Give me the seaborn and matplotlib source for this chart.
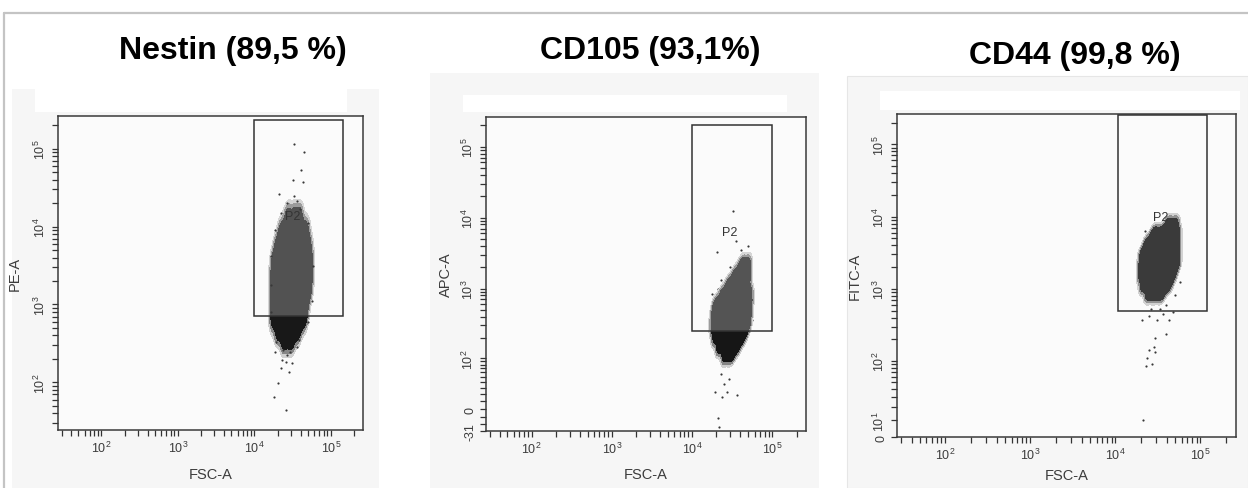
import numpy as np
import pandas as pd
import matplotlib
matplotlib.use("Agg")
import matplotlib.pyplot as plt
from matplotlib.patches import Rectangle
from matplotlib.colors import ListedColormap
import seaborn as sns

# ---------------- data ----------------
titles = ["Nestin (89,5 %)", "CD105 (93,1%)", "CD44 (99,8 %)"]
y_labels = ["PE-A", "APC-A", "FITC-A"]
x_label = "FSC-A"
gate_label = "P2"

# representative events of the dense cloud (FSC-A, marker)
nestin_fsc = [27500, 33100, 38000,
              22900, 27500, 33100, 39800, 45700,
              20400, 24500, 29500, 35500, 42700, 49000,
              18600, 22400, 26900, 32400, 38900, 46800, 51300,
              18200, 21900, 26300, 31600, 38000, 45700, 51300,
              18200, 21900, 26300, 31600, 38000, 45700, 50100,
              18200, 21900, 26300, 31600, 38000, 45700,
              18200, 21900, 26300, 31600, 38000, 43700,
              20900, 25100, 30200, 36300,
              25100, 30200]
nestin_pe = [12600] * 3 + [8320] * 5 + [5500] * 6 + [3630] * 7 + [2400] * 7 + \
            [1580] * 7 + [1050] * 6 + [690] * 6 + [480] * 4 + [363] * 2

cd105_fsc = [41700, 47900,
             34700, 40700, 47900,
             28800, 33900, 39800, 46800,
             24000, 28200, 33100, 38900, 45700, 50100,
             20000, 23400, 27500, 32400, 38000, 44700, 50100,
             19100, 22400, 26300, 30900, 36300, 42700, 49000,
             19100, 22400, 26300, 30900, 36300, 42700, 47900,
             20000, 23400, 27500, 32400, 38000, 42700,
             22400, 26300, 30900, 36300,
             26300, 30900]
cd105_apc = [2090] * 2 + [1510] * 3 + [1100] * 4 + [794] * 6 + [575] * 7 + \
            [417] * 7 + [302] * 7 + [219] * 6 + [158] * 4 + [120] * 2

cd44_fsc = [41700, 49000,
            28800, 33900, 39800, 46800, 51300,
            24000, 28200, 33100, 38900, 45700, 51300,
            21400, 25100, 29500, 34700, 40700, 47900, 51300,
            20900, 24500, 28800, 33900, 39800, 46800, 51300,
            20900, 24500, 28800, 33900, 39800, 46800,
            21900, 25700, 30200, 35500, 41700,
            25100, 29500, 34700]
cd44_fitc = [7590] * 2 + [5750] * 5 + [4170] * 6 + [3020] * 7 + [2190] * 7 + \
            [1580] * 6 + [1150] * 5 + [871] * 3

# sparse events (outliers / cloud edge)
nestin_out_fsc = [33300, 44700, 40700, 31600, 42700, 20900, 32400, 23400, 26300, 18600,
                  29500, 22900, 25700, 30900, 21900, 28200, 20000, 18200, 25700,
                  16200, 16600, 18600, 22400, 39800, 50100, 57500, 56200, 50100, 16200,
                  19100, 38000, 35500, 26300, 36300]
nestin_out_pe = [113500, 91200, 53700, 39800, 37200, 26300, 24500, 257, 224, 245,
                 245, 191, 182, 178, 151, 135, 98, 65, 44,
                 1780, 4170, 8910, 15100, 16600, 11200, 3160, 1120, 603, 794,
                 331, 355, 282, 20000, 21400]

cd105_out_fsc = [32100, 35500, 20400, 49000, 40700, 20900, 24000, 26300, 22900, 28800,
                 25100, 19100, 27500, 36300, 23400, 20900, 21400,
                 17400, 17800, 22900, 29500, 56200, 56200, 53700, 18600, 41700, 33100, 43700]
cd105_out_apc = [12300, 4680, 3240, 3980, 3550, 977, 102, 82, 56, 45,
                 36, 24, 24, 19, 16, -12, -25,
                 501, 832, 1320, 2000, 355, 1120, 2630, 166, 166, 105, 2820]

cd44_out_fsc = [25900, 20700, 30900, 42700, 38900, 29500, 28200, 25100, 29500, 23400,
                26900, 22900, 21400,
                19100, 19500, 22400, 56200, 57500, 50100, 21900, 39800, 33100, 52500,
                45700, 36300, 25100, 47900]
cd44_out_fitc = [537, 372, 372, 372, 240, 209, 158, 145, 135, 112,
                 91, 86, 10,
                 1580, 3160, 6310, 3160, 1260, 832, 724, 603, 525, 9550,
                 10500, 457, 417, 479]

# gates P2: (x0, x1, y0, y1)
gate_nestin = (10000, 143000, 720, 235000)
gate_cd105 = (10000, 100000, 255, 204000)
gate_cd44 = (10800, 118000, 490, 251000)
p2_pos = [(31600, 13500), (29500, 6300), (33900, 10000)]

x_range = (27, 262144)
y_ranges = [(24.5, 262144), (-31, 262144), (0, 262144)]
biex_width = [None, 20, 9]

# ---------------- style ----------------
W, H = 1248, 489
sns.set_theme(style="white")
plt.rcParams["font.family"] = ["Liberation Sans", "DejaVu Sans"]
plt.rcParams["mathtext.fontset"] = "custom"
plt.rcParams["mathtext.rm"] = "Liberation Sans"
plt.rcParams["mathtext.it"] = "Liberation Sans:italic"
plt.rcParams["mathtext.bf"] = "Liberation Sans:bold"
TXT = "#3c3c3c"

fig = plt.figure(figsize=(W / 100, H / 100), dpi=100, facecolor="white")


def frect(x0, y0, x1, y1, **kw):
    r = Rectangle((x0 / W, 1 - y1 / H), (x1 - x0) / W, (y1 - y0) / H,
                  transform=fig.transFigure, **kw)
    fig.add_artist(r)
    return r


# outer frame + panel backgrounds
frect(12, 90, 379, 489, facecolor="#f6f6f6", edgecolor="none", zorder=0)
frect(35, 90, 347, 113, facecolor="white", edgecolor="none", zorder=0)
frect(430, 74, 819, 489, facecolor="#f6f6f6", edgecolor="none", zorder=0)
frect(463, 96, 787, 113, facecolor="white", edgecolor="none", zorder=0)
frect(847, 77, 1248, 489, facecolor="#f6f6f6", edgecolor="#e6e6e6", lw=0.8, zorder=0)
frect(880, 92, 1240, 111, facecolor="white", edgecolor="none", zorder=0)
fig.add_artist(plt.Line2D([4 / W, 1], [1 - 14 / H, 1 - 14 / H], transform=fig.transFigure,
                          color="#c4c4c4", lw=1.6))
fig.add_artist(plt.Line2D([4 / W, 4 / W], [1 - 14 / H, 0], transform=fig.transFigure,
                          color="#c4c4c4", lw=1.6))

title_pos = [(233, 51), (650, 51), (1075, 56)]
for t, (tx, ty) in zip(titles, title_pos):
    fig.text(tx / W, 1 - ty / H, t, ha="center", va="center", fontsize=23,
             fontweight="bold", color="black")

axes_px = [(58, 363, 117, 431), (486, 806, 118, 432), (897, 1236, 115, 438)]
ylab_x = [-0.118, -0.103, -0.103]
xlab_y = [-0.118, -0.115, -0.095]


def biex(w):
    lw = np.log10(w)

    def fwd(v):
        v = np.asarray(v, dtype=float)
        return np.arcsinh(v / (2 * w)) / np.log(10) + lw

    def inv(t):
        t = np.asarray(t, dtype=float)
        return 2 * w * np.sinh((t - lw) * np.log(10))
    return fwd, inv


def pow_label(v):
    if v == 0:
        return "0"
    if v < 0:
        return str(int(v))
    return r"$10^{%d}$" % int(round(np.log10(v)))


x_major = [1e2, 1e3, 1e4, 1e5]
x_minor = [m * 10 ** k for k in range(1, 6) for m in range(2, 10)
           if x_range[0] <= m * 10 ** k <= x_range[1]]

clouds = [(nestin_fsc, nestin_pe), (cd105_fsc, cd105_apc), (cd44_fsc, cd44_fitc)]
outs = [(nestin_out_fsc, nestin_out_pe), (cd105_out_fsc, cd105_out_apc),
        (cd44_out_fsc, cd44_out_fitc)]
gates = [gate_nestin, gate_cd105, gate_cd44]
below_cols = [("#d0d0d0", "#868686", "#181818"), ("#d0d0d0", "#868686", "#161616"), None]
above_cols = [("#d6d6d6", "#9c9c9c", "#525252"), ("#d6d6d6", "#9c9c9c", "#545454"),
              ("#d2d2d2", "#929292", "#3a3a3a")]
levels = [0.004, 0.014, 0.04]


def kde_cloud(cax, df, cols):
    n0 = len(cax.collections)
    for lev, col in zip(levels, cols):
        sns.kdeplot(data=df, x="fsc", y="mk", ax=cax, fill=True, levels=[lev, 1],
                    bw_adjust=0.45, cmap=ListedColormap([col]))
    return cax.collections[n0:]


for i in range(3):
    l, r, t, b = axes_px[i]
    ax = fig.add_axes([l / W, 1 - b / H, (r - l) / W, (b - t) / H])
    ax.set_facecolor("#fbfbfb")
    ax.set_xscale("log")
    w = biex_width[i]
    ylo, yhi = y_ranges[i]
    if w is None:
        ax.set_yscale("log")
        cax = ax
        y_major = [1e2, 1e3, 1e4, 1e5]
        y_minor = [m * 10 ** k for k in range(1, 6) for m in range(2, 10)
                   if ylo <= m * 10 ** k <= yhi]
    else:
        fwd, inv = biex(w)
        ax.set_yscale("function", functions=(fwd, inv))
        cax = ax.twinx()
        cax.set_yscale("log")
        cax.yaxis.set_visible(False)
        for s in cax.spines.values():
            s.set_visible(False)
        if i == 1:
            y_major = [-31, 0, 1e2, 1e3, 1e4, 1e5]
            y_minor = [-20, -10] + [m * 10 for m in range(1, 10)] + \
                      [m * 10 ** k for k in range(2, 5) for m in range(2, 10)] + [2e5]
        else:
            y_major = [0, 10, 1e2, 1e3, 1e4, 1e5]
            y_minor = [m * 10 for m in range(2, 10)] + \
                      [m * 10 ** k for k in range(2, 5) for m in range(2, 10)] + [2e5]

    fsc, mk = clouds[i]
    g = gates[i]
    df = pd.DataFrame({"fsc": fsc, "mk": mk})
    if below_cols[i] is not None:
        kde_cloud(cax, df, below_cols[i])
        clip = Rectangle((g[0], g[2]), g[1] - g[0], g[3] - g[2], transform=cax.transData,
                         facecolor="none", edgecolor="none")
        for c in kde_cloud(cax, df, above_cols[i]):
            c.set_clip_path(clip)
    else:
        kde_cloud(cax, df, above_cols[i])

    ofsc, omk = outs[i]
    sns.scatterplot(x=ofsc, y=omk, ax=ax, s=2.5, color="#383838", linewidth=0,
                    legend=False, zorder=2)

    cax.add_patch(Rectangle((g[0], g[2]), g[1] - g[0], g[3] - g[2], facecolor="none",
                            edgecolor="#333333", lw=1.1, zorder=5))
    cax.text(p2_pos[i][0], p2_pos[i][1], gate_label, ha="center", va="center",
             fontsize=9, color="#333333", zorder=6)

    # limits
    ax.set_xlim(*x_range)
    ax.set_ylim(ylo, yhi)
    if cax is not ax:
        cax.set_xlim(*x_range)
        cax.set_ylim(10 ** float(fwd(ylo)), 10 ** float(fwd(yhi)))

    # ticks
    ax.set_xticks(x_major)
    ax.set_xticks(x_minor, minor=True)
    ax.set_xticklabels([pow_label(v) for v in x_major])
    ax.set_yticks(y_major)
    ax.set_yticks(y_minor, minor=True)
    ax.set_yticklabels([pow_label(v) for v in y_major])
    ax.tick_params(axis="both", which="both", direction="out", length=4, width=0.9,
                   color="#333333", labelsize=9, labelcolor=TXT, pad=3)
    ax.tick_params(axis="x", which="both", bottom=True, top=False)
    ax.tick_params(axis="y", which="both", left=True, right=False, labelrotation=90)
    for lab in ax.get_yticklabels():
        lab.set_va("center")
    for s in ax.spines.values():
        s.set_color("#3a3a3a")
        s.set_linewidth(1.1)

    ax.set_xlabel(x_label, fontsize=10.5, color=TXT)
    ax.set_ylabel(y_labels[i], fontsize=10.5, color=TXT)
    ax.xaxis.set_label_coords(0.5, xlab_y[i])
    ax.yaxis.set_label_coords(ylab_x[i], 0.5)
    if cax is not ax:
        cax.set_ylabel("")
        cax.set_xlabel("")

fig.savefig("out.png", dpi=100, facecolor="white")
